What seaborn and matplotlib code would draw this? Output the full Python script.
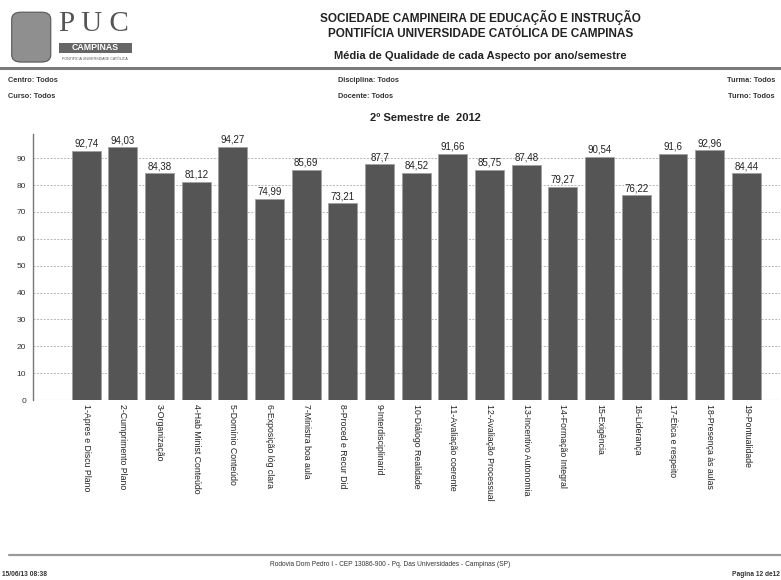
"""
Média de Qualidade de cada Aspecto - PUC Campinas, 2º semestre 2012.
Recreates the report page as a single bar chart with header/footer text.

Run:
    python plot.py
"""

import matplotlib
matplotlib.use("Agg")
import matplotlib.pyplot as plt
import matplotlib.patches as mpatches
import pandas as pd
import seaborn as sns

ASPECTOS = [
    "1-Apres e Discu Plano", "2-Cumprimento Plano", "3-Organização",
    "4-Hab Minist Conteúdo", "5-Domínio Conteúdo", "6-Exposição lóg clara",
    "7-Ministra boa aula", "8-Proced e Recur Did", "9-Interdisciplinarid",
    "10-Diálogo Realidade", "11-Avaliação coerente", "12-Avaliação Processual",
    "13-Incentivo Autonomia", "14-Formação Integral", "15-Exigência",
    "16-Liderança", "17-Ética e respeito", "18-Presença às aulas",
    "19-Pontualidade",
]
MEDIAS = [92.74, 94.03, 84.38, 81.12, 94.27, 74.99, 85.69, 73.21, 87.7, 84.52,
          91.66, 85.75, 87.48, 79.27, 90.54, 76.22, 91.6, 92.96, 84.44]
Y_TICKS = [0, 10, 20, 30, 40, 50, 60, 70, 80, 90]

BAR_COLOR = "#555555"
TEXT_COLOR = "#222222"


def fmt_br(v):
    # brazilian decimal comma, no trailing zeros
    return f"{v:g}".replace(".", ",")


def draw_header(fig):
    # logo (rough stand-in for the crest + wordmark)
    crest = mpatches.FancyBboxPatch((0.017, 0.895), 0.046, 0.082,
                                    boxstyle="round,pad=0.002,rounding_size=0.012",
                                    transform=fig.transFigure, facecolor="#8f8f8f",
                                    edgecolor="#555555", linewidth=0.8)
    fig.patches.append(crest)
    fig.text(0.120, 0.946, "P U C", fontsize=21, family="Liberation Serif",
             color="#555555", va="baseline", ha="center")
    box = mpatches.Rectangle((0.075, 0.909), 0.094, 0.017, transform=fig.transFigure,
                             facecolor="#666666", edgecolor="none")
    fig.patches.append(box)
    fig.text(0.122, 0.9175, "CAMPINAS", fontsize=6.3, color="white",
             ha="center", va="center", fontweight="bold")
    fig.text(0.122, 0.898, "PONTIFÍCIA UNIVERSIDADE CATÓLICA", fontsize=2.6,
             color="#555555", ha="center", va="center")

    fig.text(0.615, 0.970, "SOCIEDADE CAMPINEIRA DE EDUCAÇÃO E INSTRUÇÃO",
             fontsize=8.5, fontweight="bold", ha="center", va="center", color=TEXT_COLOR)
    fig.text(0.615, 0.941, "PONTIFÍCIA UNIVERSIDADE CATÓLICA DE CAMPINAS",
             fontsize=8.5, fontweight="bold", ha="center", va="center", color=TEXT_COLOR)
    fig.text(0.615, 0.903, "Média de Qualidade de cada Aspecto por ano/semestre",
             fontsize=8, fontweight="bold", ha="center", va="center", color=TEXT_COLOR)
    fig.add_artist(plt.Line2D([0, 1], [0.882, 0.882], color="#7a7a7a", linewidth=2.2,
                              transform=fig.transFigure))

    small = dict(fontsize=5.3, fontweight="bold", va="center", color="#333333")
    fig.text(0.010, 0.862, "Centro: Todos", ha="left", **small)
    fig.text(0.010, 0.834, "Curso: Todos", ha="left", **small)
    fig.text(0.433, 0.862, "Disciplina: Todos", ha="left", **small)
    fig.text(0.433, 0.834, "Docente: Todos", ha="left", **small)
    fig.text(0.992, 0.862, "Turma: Todos", ha="right", **small)
    fig.text(0.992, 0.834, "Turno: Todos", ha="right", **small)

    fig.text(0.545, 0.797, "2º Semestre de  2012", fontsize=8, fontweight="bold",
             ha="center", va="center", color=TEXT_COLOR)


def draw_footer(fig):
    fig.add_artist(plt.Line2D([0.012, 1], [0.043, 0.043], color="#9a9a9a", linewidth=1.6,
                              transform=fig.transFigure))
    fig.text(0.5, 0.027, "Rodovia Dom Pedro I - CEP 13086-900 - Pq. Das Universidades - Campinas (SP)",
             fontsize=4.8, ha="center", va="center", color="#333333")
    fig.text(0.002, 0.009, "15/06/13 08:38", fontsize=4.8, fontweight="bold",
             ha="left", va="center", color="#333333")
    fig.text(0.998, 0.009, "Pagina 12 de12", fontsize=4.8, fontweight="bold",
             ha="right", va="center", color="#333333")


def main():
    sns.set_theme(style="white")
    plt.rcParams["font.family"] = ["Liberation Sans", "DejaVu Sans"]

    df = pd.DataFrame({"aspecto": ASPECTOS, "media": MEDIAS})

    fig = plt.figure(figsize=(7.81, 5.80), dpi=100)
    ax = fig.add_axes([0.0423, 0.3103, 0.957, 0.4586])

    sns.barplot(data=df, x="aspecto", y="media", color=BAR_COLOR, saturation=1,
                width=0.79, edgecolor="#a0a0a0", linewidth=0.6, ax=ax)

    ax.bar_label(ax.containers[0], labels=[fmt_br(v) for v in MEDIAS],
                 fontsize=7, padding=1.5, color=TEXT_COLOR)

    ax.set_xlim(-1.45, 18.93)
    ax.set_ylim(0, 99)
    ax.set_yticks(Y_TICKS)
    ax.tick_params(axis="y", labelsize=6, length=2, width=0.6, colors="#333333", pad=3)
    ax.tick_params(axis="x", labelsize=6.3, length=0, pad=3, colors="#222222")
    plt.setp(ax.get_xticklabels(), rotation=270, ha="center", va="top")
    ax.set_xlabel("")
    ax.set_ylabel("")

    ax.yaxis.grid(True, linestyle=(0, (2, 1.5)), color="#b5b5b5", linewidth=0.7)
    ax.set_axisbelow(True)
    for side in ["top", "right", "bottom"]:
        ax.spines[side].set_visible(False)
    ax.spines["left"].set_color("#777777")
    ax.spines["left"].set_linewidth(1.0)
    ax.axhline(0, color="#999999", linewidth=0.8, linestyle=(0, (2, 1.5)), zorder=0)

    draw_header(fig)
    draw_footer(fig)

    fig.savefig("out.png", dpi=100)
    plt.close(fig)


if __name__ == "__main__":
    main()
